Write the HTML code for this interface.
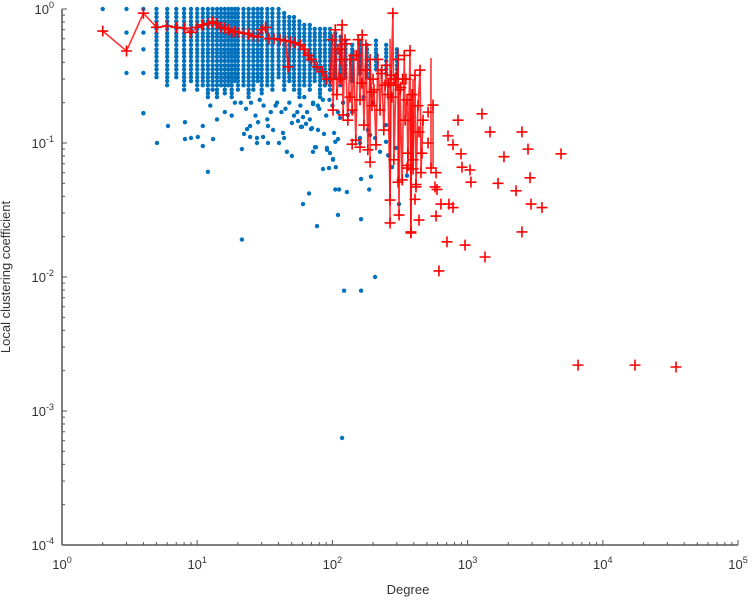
<!DOCTYPE html>
<html><head><meta charset="utf-8">
<style>
html,body{margin:0;padding:0;background:#fff;}
svg{display:block;font-family:"Liberation Sans",sans-serif;}
</style></head>
<body>
<svg id="chart" width="753" height="600" viewBox="0 0 753 600">
<g id="blue"></g>
<g id="red"></g>
<g id="axes"></g>
<text x="10" y="277" transform="rotate(-90 10 277)" text-anchor="middle" font-size="13" fill="#333">Local clustering coefficient</text>
<text x="408" y="594" text-anchor="middle" font-size="13" fill="#333">Degree</text>
</svg>
<script>
// ---- data ----
const xTickExps = [0,1,2,3,4,5];
const yTickExps = [0,-1,-2,-3,-4];
const blueLowDeg = [2,3,3,3,4,4,4,4,4];
const blueLowC   = [1,1,0.667,0.333,1,0.667,0.5,0.333,0.167];
const cloudDeg = [5,6,7,8,9,10,11,12,13,14,15,16,17,18,19,20,22,24,26,28,30,33,36,40,44,48,52,57,62,68,74,81,88,96,105,115,125,140,160,180,210,250,300];
const cloudTop = [1,1,1,1,1,1,1,1,1,1,1,1,1,1,1,1,1,1,1,1,1,1,1,1,0.97,0.92,0.88,0.85,0.8,0.78,0.75,0.75,0.72,0.72,0.7,0.65,0.6,0.55,0.6,0.55,0.6,0.55,0.5];
const cloudBot = [0.3,0.27,0.31,0.25,0.29,0.24,0.27,0.22,0.25,0.21,0.27,0.23,0.26,0.22,0.29,0.24,0.27,0.22,0.25,0.29,0.23,0.27,0.25,0.3,0.24,0.28,0.25,0.22,0.27,0.24,0.29,0.22,0.26,0.24,0.3,0.27,0.31,0.29,0.33,0.31,0.35,0.33,0.31];
const cloudLevels = [1,0.93,0.87,0.81,0.76,0.71,0.66,0.62,0.58,0.54,0.5,0.47,0.44,0.41,0.38,0.355,0.33,0.31,0.29,0.27,0.25,0.235,0.22,0.205,0.19,0.18];
const blueDeg = [5.04,6.08,8.12,11,8.12,9,10.1,13.1,11,12,21.4,21.4,24.6,28.2,23.4,22.2,24.6,27.7,27.7,30.7,33.4,33.4,36.4,40.3,43.1,43.9,46.1,50.2,50.2,55.7,58.6,63.8,69.5,78.2,86.6,71.9,75.6,91.2,96,101,85.2,94.4,106,105,112,128,67.2,60.6,110,76.9,122,103,105,110,163,163,207,311,187,163,193,276,356,74.3,91.2,101,249,225,258,295,59.6,70.6,60.6,71.9,114,130,183,190,207,249,160,160,118,4,
 12.5,16,19,23,27,31,35,39,45,52,58,65,72,80,90,100,14,18,25,33,42,55,68,85,110,21,29,38,48,62,78,95,120,140,170,200];
const blueC = [0.1,0.134,0.143,0.134,0.107,0.109,0.111,0.107,0.095,0.061,0.09,0.019,0.134,0.143,0.127,0.117,0.111,0.109,0.1,0.111,0.1,0.134,0.125,0.1,0.119,0.109,0.086,0.08,0.141,0.146,0.132,0.139,0.127,0.125,0.117,0.086,0.093,0.089,0.084,0.076,0.064,0.065,0.066,0.045,0.045,0.043,0.042,0.035,0.029,0.024,0.0079,0.119,0.102,0.107,0.027,0.0079,0.010,0.035,0.045,0.054,0.056,0.066,0.057,0.093,0.092,0.075,0.102,0.086,0.081,0.092,0.132,0.129,0.156,0.195,0.154,0.162,0.125,0.115,0.109,0.136,0.109,0.1,0.00063,0.167,
 0.19,0.17,0.2,0.18,0.16,0.19,0.17,0.2,0.18,0.16,0.19,0.17,0.2,0.18,0.16,0.19,0.15,0.16,0.2,0.15,0.17,0.17,0.15,0.21,0.17,0.2,0.21,0.19,0.2,0.22,0.19,0.21,0.2,0.17,0.22,0.2];
const redLineDeg = [2,3,4,5,6,7,8,9,10,11,12,13,14,15,16,17,18,19,20,22,24,26,28,30,32,34,37,41,45,47,49,53,58,62,66,70,77,84,91,96,99.6,101,105,108,114,118,120,124,130,135,140,144,149,155,160,166,171,177,183,190,196,203,210,217,225,232,240,249,258,267,272,280,285,295,306,311,317,328,340,345,356,362,375,381,388,395,408,415,430,445,452,468];
const redLineC = [0.685,0.486,0.93,0.73,0.746,0.73,0.72,0.67,0.73,0.76,0.78,0.8,0.78,0.73,0.72,0.7,0.67,0.68,0.67,0.66,0.65,0.63,0.62,0.7,0.73,0.6,0.6,0.59,0.58,0.37,0.57,0.56,0.54,0.5,0.45,0.42,0.37,0.34,0.3,0.30,0.59,0.176,0.70,0.23,0.42,0.76,0.162,0.59,0.148,0.42,0.176,0.45,0.105,0.59,0.21,0.64,0.136,0.54,0.089,0.42,0.19,0.25,0.097,0.42,0.176,0.35,0.125,0.38,0.23,0.0375,0.32,0.93,0.075,0.27,0.42,0.029,0.25,0.053,0.45,0.148,0.21,0.068,0.49,0.0217,0.23,0.075,0.32,0.049,0.19,0.35,0.06,0.148];
const redPtDeg = [1277,849,1465,2524,716,780,2798,4909,1858,894,460,140,510,555,437,510,909,1042,1059,1679,2896,2280,584,536,574,594,415,408,635,728,780,2944,3550,584,437,267,381,2524,704,957,1345,614,306,190,160,362,395,356,6560,17300,34800,
 110,125,150,175,200,230,260,290,320,350,115,135,165,195,245,275,330];
const redPtC = [0.165,0.148,0.121,0.121,0.113,0.097,0.090,0.083,0.079,0.083,0.084,0.098,0.170,0.192,0.121,0.100,0.066,0.063,0.051,0.050,0.055,0.044,0.060,0.065,0.047,0.045,0.047,0.038,0.035,0.035,0.033,0.035,0.033,0.0285,0.0266,0.0253,0.0213,0.0217,0.0183,0.0173,0.0141,0.0111,0.051,0.072,0.093,0.084,0.064,0.065,0.0022,0.0022,0.00213,
 0.5,0.55,0.45,0.35,0.3,0.33,0.28,0.3,0.26,0.3,0.3,0.22,0.28,0.24,0.27,0.22,0.3];
const barDeg = [267,381,536,306,190,395,555];
const barLo  = [0.0253,0.0213,0.065,0.051,0.072,0.064,0.065];
const barHi  = [0.6,0.2,0.43,0.5,0.4,0.3,0.192];

// ---- scales ----
const X0=62, XD=135.2, Y0=9, YD=134;
const sx = k => X0 + XD*Math.log10(k);
const sy = c => Y0 - YD*Math.log10(c);
const NS='http://www.w3.org/2000/svg';
function mk(tag, attrs, parent){
  const e=document.createElementNS(NS,tag);
  for(const k in attrs) e.setAttribute(k,attrs[k]);
  parent.appendChild(e); return e;
}
const gB=document.getElementById('blue'), gR=document.getElementById('red'), gA=document.getElementById('axes');
const BLUE='#0072BD';
function dot(k,c){
  const e=mk('circle',{cx:sx(k).toFixed(1),cy:sy(c).toFixed(1),r:2.2,fill:BLUE},gB);
  
  
}
for(let i=0;i<blueLowDeg.length;i++) dot(blueLowDeg[i],blueLowC[i]);
for(let i=0;i<cloudDeg.length;i++){
  for(const L of cloudLevels){ if(L<=cloudTop[i]+1e-9 && L>=cloudBot[i]-1e-9) dot(cloudDeg[i],L); }
}
for(let i=0;i<blueDeg.length;i++) dot(blueDeg[i],blueC[i]);

const RED='rgba(255,0,0,0.8)';
for(let i=0;i<barDeg.length;i++){
  const e=mk('line',{x1:sx(barDeg[i]),x2:sx(barDeg[i]),y1:sy(barLo[i]),y2:sy(barHi[i]),stroke:RED,'stroke-width':1.6},gR);
  
  
}
const pts=redLineDeg.map((k,i)=>sx(k).toFixed(1)+','+sy(redLineC[i]).toFixed(1)).join(' ');
const pl=mk('polyline',{points:pts,fill:'none',stroke:RED,'stroke-width':1.6},gR);


function plus(k,c){
  const x=sx(k), y=sy(c), s=5.5;
  const p=mk('path',{d:`M${x-s},${y}H${x+s}M${x},${y-s}V${y+s}`,stroke:'#f00','stroke-width':1.6,fill:'none'},gR);
  
  
}
for(let i=0;i<redLineDeg.length;i++) plus(redLineDeg[i],redLineC[i]);
for(let i=0;i<redPtDeg.length;i++) plus(redPtDeg[i],redPtC[i]);

const AX='#555', yB=sy(1e-4), xR=sx(1e5);
let e=mk('line',{x1:X0,x2:X0,y1:Y0,y2:yB,stroke:AX,'stroke-width':1.5},gA);
 
e=mk('line',{x1:X0,x2:xR,y1:yB,y2:yB,stroke:AX,'stroke-width':1.5},gA);
 
for(const ex of xTickExps){
  const x=sx(Math.pow(10,ex));
  const t=mk('line',{x1:x,x2:x,y1:yB,y2:yB-5,stroke:AX,'stroke-width':1},gA);
   
  if(ex<5) for(let m=2;m<10;m++){
    const xm=sx(m*Math.pow(10,ex));
    const tm=mk('line',{x1:xm,x2:xm,y1:yB,y2:yB-3,stroke:AX,'stroke-width':1},gA);
     
  }
  const tx=mk('text',{x:x,y:yB+24,'text-anchor':'middle','font-size':13,fill:'#333'},gA);
   
  tx.innerHTML='10<tspan dy="-6" font-size="9">'+ex+'</tspan>';
}
for(const ey of yTickExps){
  const y=sy(Math.pow(10,ey));
  const t=mk('line',{x1:X0,x2:X0+5,y1:y,y2:y,stroke:AX,'stroke-width':1},gA);
   
  if(ey>-4) for(let m=2;m<10;m++){
    const ym=sy(m*Math.pow(10,ey-1));
    const tm=mk('line',{x1:X0,x2:X0+3,y1:ym,y2:ym,stroke:AX,'stroke-width':1},gA);
     
  }
  const tx=mk('text',{x:X0-8,y:y+5,'text-anchor':'end','font-size':13,fill:'#333'},gA);
   
  tx.innerHTML='10<tspan dy="-6" font-size="9">'+ey+'</tspan>';
}
</script>
</body></html>
